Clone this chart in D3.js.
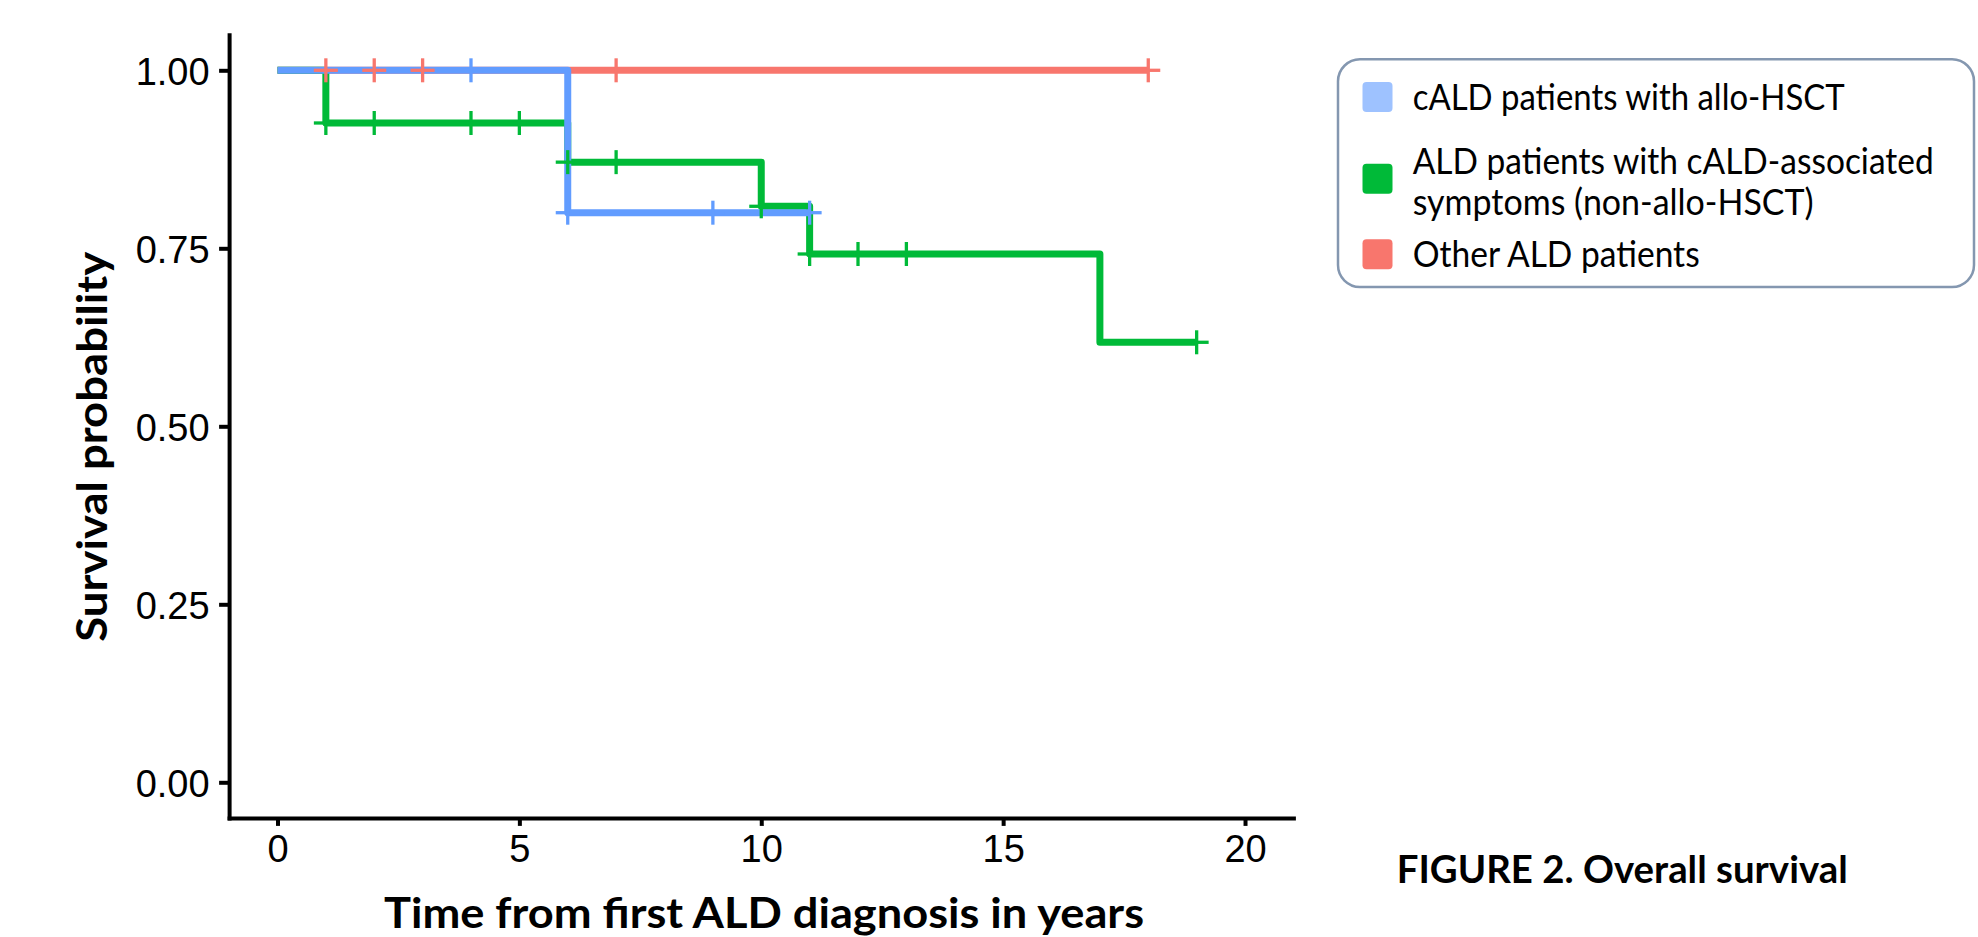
<!DOCTYPE html>
<html><head><meta charset="utf-8">
<script src="https://cdn.jsdelivr.net/npm/d3@7"></script>
<style>body{margin:0;background:#fff} svg{display:block}</style>
</head><body><svg id="c" width="1978" height="937"></svg>
<script>
// ---- data ----
const groupNames = ["Other ALD patients", "ALD patients with cALD-associated symptoms (non-allo-HSCT)", "cALD patients with allo-HSCT"];
const groupColors = ["#F8766D", "#00BA38", "#619CFF"];
const otherTimes = [0, 18];
const otherSurv = [1, 1];
const otherCensor = [1, 2, 3, 7, 18];
const symptTimes = [0, 1, 6, 10, 11, 17, 19];
const symptSurv = [1, 0.926, 0.871, 0.809, 0.742, 0.618, 0.618];
const symptCensor = [1, 2, 4, 5, 6, 7, 10, 11, 12, 13, 19];
const hsctTimes = [0, 6, 11];
const hsctSurv = [1, 0.8, 0.8];
const hsctCensor = [4, 6, 9, 11];
const xTicks = [0, 5, 10, 15, 20];
const yTicks = [0, 0.25, 0.5, 0.75, 1];
const legendLabels = [["cALD patients with allo-HSCT"], ["ALD patients with cALD-associated", "symptoms (non-allo-HSCT)"], ["Other ALD patients"]];
const legendColors = ["#9EC2FF", "#00BA38", "#F8766D"];
const xTitle = "Time from first ALD diagnosis in years";
const yTitle = "Survival probability";
const caption = "FIGURE 2. Overall survival";

// ---- build ----
const series = [
  {times: otherTimes, surv: otherSurv, censor: otherCensor, color: groupColors[0]},
  {times: symptTimes, surv: symptSurv, censor: symptCensor, color: groupColors[1]},
  {times: hsctTimes, surv: hsctSurv, censor: hsctCensor, color: groupColors[2]}
];
function survAt(s, t) { let v = s.surv[0]; s.times.forEach((tt, i) => { if (tt <= t) v = s.surv[i]; }); return v; }

const svg = d3.select("#c");
svg.append("rect").attr("width", 1978).attr("height", 937).attr("fill", "#fff");
const x = d3.scaleLinear().domain([-1, 21]).range([229.1, 1293.4]);
const y = d3.scaleLinear().domain([-0.05, 1.05]).range([817.9, 34.7]);

const TICKFONT = "'Liberation Sans', Arial, sans-serif";
const TITLEFONT = "Lato, 'Open Sans', sans-serif";

// axes
const gy = svg.append("g").attr("transform", `translate(${x(-1)},0)`)
  .call(d3.axisLeft(y).tickValues(yTicks).tickFormat(d3.format(".2f")).tickSize(10).tickSizeOuter(0).tickPadding(9.5));
const gx = svg.append("g").attr("transform", `translate(0,${y(-0.05)})`)
  .call(d3.axisBottom(x).tickValues(xTicks).tickFormat(d3.format("d")).tickSize(8).tickSizeOuter(0).tickPadding(9));
[gx, gy].forEach(g => {
  g.select(".domain").attr("stroke", "#000").attr("stroke-width", 4).attr("stroke-linecap", "square");
  g.selectAll(".tick line").attr("stroke", "#000").attr("stroke-width", 4);
  g.selectAll(".tick text").attr("fill", "#000").style("font-family", TICKFONT).style("font-size", "38px");
});
gy.selectAll(".tick text").attr("dy", "0.37em");

// step lines
const line = d3.line().x(d => x(d[0])).y(d => y(d[1])).curve(d3.curveStepAfter);
series.forEach(s => {
  svg.append("path").datum(s.times.map((t, i) => [t, s.surv[i]]))
    .attr("d", line).attr("fill", "none").attr("stroke", s.color)
    .attr("stroke-width", 7).attr("stroke-linejoin", "round");
});
// censor marks
const H = 12;
series.forEach(s => {
  const g = svg.append("g").attr("stroke", s.color).attr("stroke-width", 3.3);
  s.censor.forEach(t => {
    const cx = x(t), cy = y(survAt(s, t));
    g.append("line").attr("x1", cx - H).attr("x2", cx + H).attr("y1", cy).attr("y2", cy);
    g.append("line").attr("x1", cx).attr("x2", cx).attr("y1", cy - H).attr("y2", cy + H);
  });
});

// titles
svg.append("text").text(xTitle).attr("x", 764).attr("y", 928.3).attr("text-anchor", "middle")
  .attr("textLength", 760).attr("lengthAdjust", "spacingAndGlyphs")
  .style("font-family", TITLEFONT).style("font-weight", "bold").style("font-size", "42px").attr("fill", "#000");
svg.append("text").text(yTitle).attr("transform", "translate(106.7,446.7) rotate(-90)").attr("text-anchor", "middle")
  .attr("textLength", 390).attr("lengthAdjust", "spacingAndGlyphs")
  .style("font-family", TITLEFONT).style("font-weight", "bold").style("font-size", "42px").attr("fill", "#000");
svg.append("text").text(caption).attr("x", 1396.7).attr("y", 883.3)
  .attr("textLength", 451).attr("lengthAdjust", "spacingAndGlyphs")
  .style("font-family", TITLEFONT).style("font-weight", "bold").style("font-size", "38px").attr("fill", "#000");

// legend
svg.append("rect").attr("x", 1338).attr("y", 59.3).attr("width", 1974 - 1338).attr("height", 287 - 59.3)
  .attr("rx", 22).attr("fill", "#fff").attr("stroke", "#8497B0").attr("stroke-width", 2.5);
const sqCenters = [97, 178.7, 254.3];
const baselines = [[110], [174.3, 215], [266.7]];
const widths = [[432], [521, 401], [287]];
legendLabels.forEach((lines, i) => {
  svg.append("rect").attr("x", 1362.5).attr("y", sqCenters[i] - 15).attr("width", 30).attr("height", 30)
    .attr("rx", 4).attr("fill", legendColors[i]);
  lines.forEach((txt, j) => {
    svg.append("text").text(txt).attr("x", 1412.7).attr("y", baselines[i][j])
      .attr("textLength", widths[i][j]).attr("lengthAdjust", "spacingAndGlyphs")
      .style("font-family", TITLEFONT).style("font-size", "37px").attr("fill", "#000");
  });
});
</script></body></html>
